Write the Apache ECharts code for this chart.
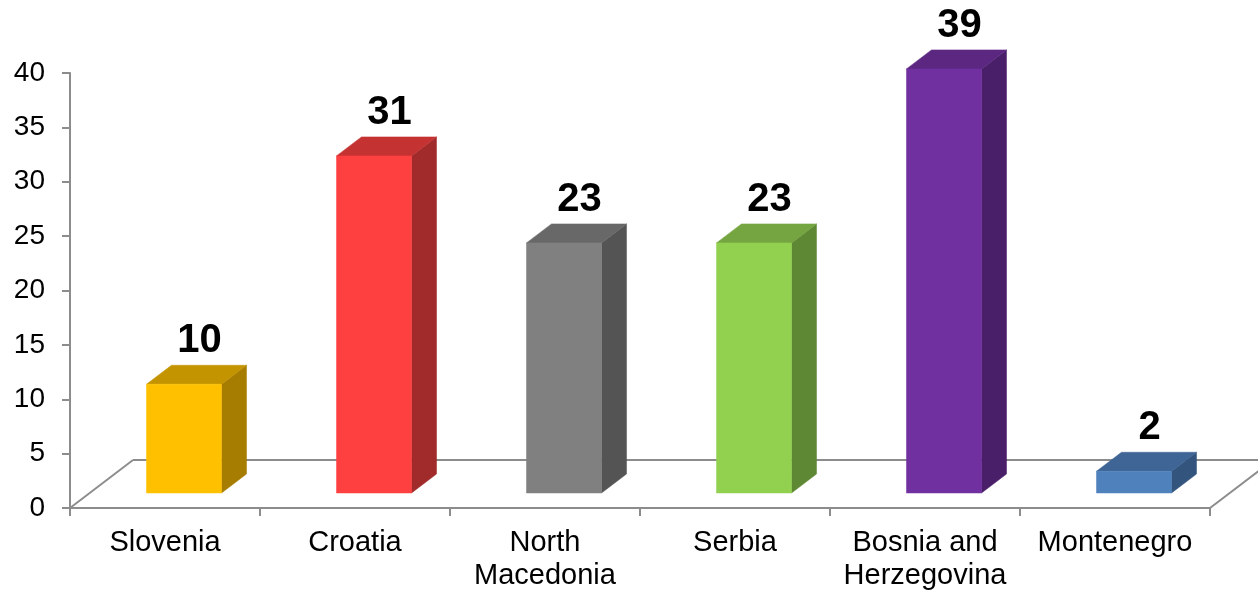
<!DOCTYPE html>
<html>
<head>
<meta charset="utf-8">
<script src="https://cdn.jsdelivr.net/npm/echarts@6/dist/echarts.min.js"></script>
<style>
html,body{margin:0;padding:0;background:#fff;}
#chart{width:1258px;height:594px;}
</style>
</head>
<body>
<div id="chart"></div>
<script>
// ---- data ----
const categories = ['Slovenia', 'Croatia', 'North\nMacedonia', 'Serbia', 'Bosnia and\nHerzegovina', 'Montenegro'];
const values = [10, 31, 23, 23, 39, 2];
const yMin = 0, yMax = 40, yInterval = 5;

// ---- styles ----
const frontColors = ['#FFC000', '#FF4040', '#808080', '#92D050', '#7030A0', '#4F81BD'];
const sideColors  = ['#A67D00', '#A12A2A', '#545454', '#5F8834', '#4A1F69', '#33547C'];
const topColors   = ['#C49300', '#C43232', '#686868', '#74A541', '#5B2781', '#3E6595'];
const FONT = "'Liberation Sans', Arial, sans-serif";
const FRONT_DX = 19, FRONT_DY = -15;   // bar front-face offset from axis plane
const DEPTH_DX = 25, DEPTH_DY = -19;   // bar depth
const FLOOR_DX = 63, FLOOR_DY = -48;   // floor depth
const AXIS_COLOR = '#8C8C8C';

const chart = echarts.init(document.getElementById('chart'), null, {renderer: 'canvas'});

function renderFloor(params, api) {
  const cs = params.coordSys;
  const yb = cs.y + cs.height;
  const style = {stroke: AXIS_COLOR, lineWidth: 2, fill: null};
  return {
    type: 'group',
    children: [
      {type: 'line', shape: {x1: cs.x, y1: yb, x2: cs.x + FLOOR_DX, y2: yb + FLOOR_DY}, style: style},
      {type: 'line', shape: {x1: cs.x + FLOOR_DX, y1: yb + FLOOR_DY, x2: cs.x + cs.width + FLOOR_DX, y2: yb + FLOOR_DY}, style: style},
      {type: 'line', shape: {x1: cs.x + cs.width, y1: yb, x2: cs.x + cs.width + FLOOR_DX, y2: yb + FLOOR_DY}, style: style}
    ]
  };
}

function renderBar(params, api) {
  const i = api.value(0);
  const v = api.value(1);
  const base = api.coord([i, 0]);
  const top = api.coord([i, v]);
  const band = api.size([1, 0])[0];
  const w = band * 0.395;
  const x1 = base[0] + FRONT_DX - w / 2;
  const x2 = x1 + w;
  const yb = base[1] + FRONT_DY;
  const yt = top[1] + FRONT_DY;
  const idx = params.dataIndex;
  return {
    type: 'group',
    children: [
      {type: 'polygon', shape: {points: [[x2, yt], [x2 + DEPTH_DX, yt + DEPTH_DY], [x2 + DEPTH_DX, yb + DEPTH_DY], [x2, yb]]},
        style: {fill: sideColors[idx], stroke: sideColors[idx], lineWidth: 0.5}},
      {type: 'polygon', shape: {points: [[x1, yt], [x2, yt], [x2 + DEPTH_DX, yt + DEPTH_DY], [x1 + DEPTH_DX, yt + DEPTH_DY]]},
        style: {fill: topColors[idx], stroke: topColors[idx], lineWidth: 0.5}},
      {type: 'rect', shape: {x: x1, y: yt, width: w, height: yb - yt},
        style: {fill: frontColors[idx], stroke: frontColors[idx], lineWidth: 0.5}},
      {type: 'text', x: x1 + (w + DEPTH_DX) / 2 + 3, y: yt + DEPTH_DY - 24,
        style: {text: String(v), fill: '#000', font: 'bold 40px ' + FONT, align: 'center', verticalAlign: 'middle'}}
    ]
  };
}

const option = {
  animation: false,
  backgroundColor: '#fff',
  grid: {left: 70, right: 48, top: 73, bottom: 86, containLabel: false},
  xAxis: {
    type: 'category',
    data: categories,
    boundaryGap: true,
    axisLine: {show: true, lineStyle: {color: AXIS_COLOR, width: 2}},
    axisTick: {show: true, length: 8, lineStyle: {color: AXIS_COLOR, width: 2}},
    axisLabel: {color: '#000', fontSize: 29, fontFamily: FONT, lineHeight: 33, margin: 18, interval: 0}
  },
  yAxis: {
    type: 'value',
    min: yMin, max: yMax, interval: yInterval,
    splitLine: {show: false},
    axisLine: {show: true, lineStyle: {color: AXIS_COLOR, width: 2}},
    axisTick: {show: true, length: 8, lineStyle: {color: AXIS_COLOR, width: 2}},
    axisLabel: {color: '#000', fontSize: 28, fontFamily: FONT, margin: 25}
  },
  series: [
    {type: 'custom', renderItem: renderFloor, data: [[0, 0]], encode: {x: 0, y: 1}, silent: true, z: 1, clip: false},
    {type: 'custom', renderItem: renderBar, data: values.map((v, i) => [i, v]), encode: {x: 0, y: 1}, z: 2, clip: false}
  ]
};
chart.setOption(option);
</script>
</body>
</html>
